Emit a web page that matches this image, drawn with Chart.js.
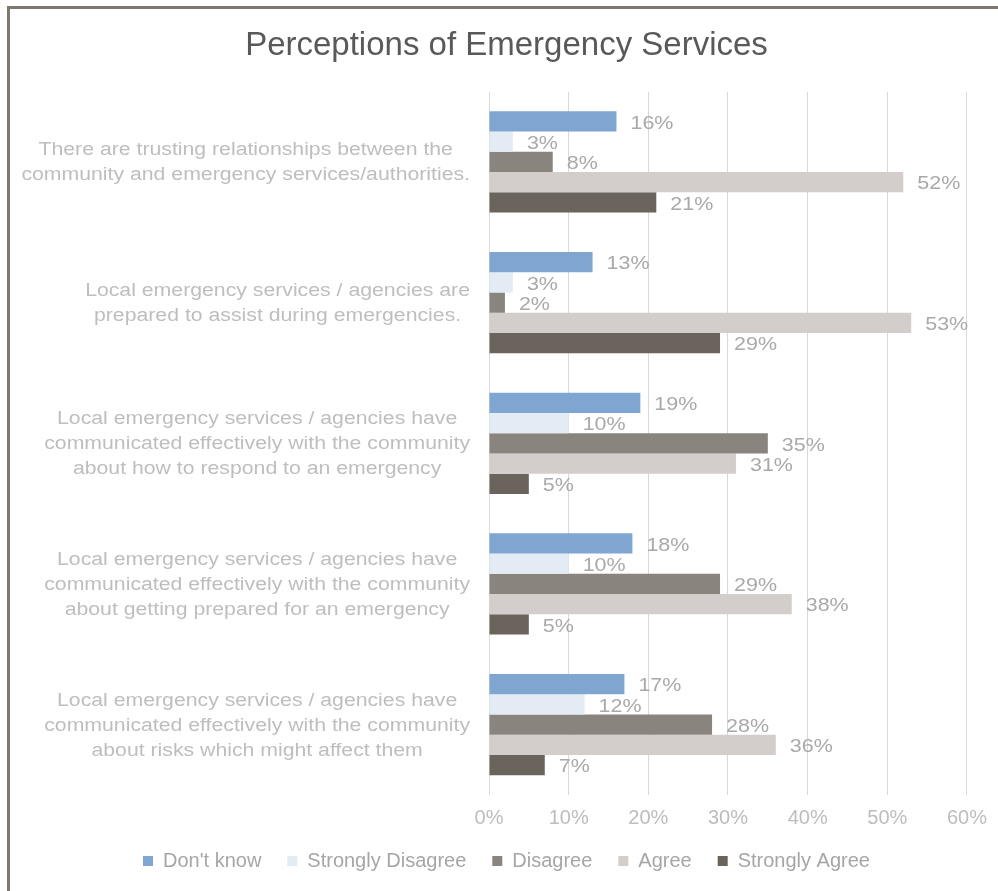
<!DOCTYPE html>
<html>
<head>
<meta charset="utf-8">
<script src="https://cdn.jsdelivr.net/npm/chart.js@4.4.1/dist/chart.umd.min.js"></script>
<style>
  html, body { margin: 0; padding: 0; background: #ffffff; overflow: hidden; }
  #wrap { position: relative; width: 998px; height: 891px; }
  #frame {
    position: absolute; left: 7px; top: 6px; width: 1100px; height: 1000px;
    border-top: 3px solid #7d7872; border-left: 3px solid #7d7872;
    box-sizing: border-box; pointer-events: none;
  }
  canvas { position: absolute; left: 0; top: 0; }
</style>
</head>
<body>
<div id="wrap">
  <canvas id="chart" width="998" height="891"></canvas>
  <div id="frame"></div>
</div>
<script>
// Categorías (una por fila del gráfico, cada una partida en líneas)
const categories = [
  ["There are trusting relationships between the", "community and emergency services/authorities."],
  ["Local emergency services / agencies are", "prepared to assist during emergencies."],
  ["Local emergency services / agencies have", "communicated effectively with the community", "about how to respond to an emergency"],
  ["Local emergency services / agencies have", "communicated effectively with the community", "about getting prepared for an emergency"],
  ["Local emergency services / agencies have", "communicated effectively with the community", "about risks which might affect them"]
];

// Porcentajes por serie
const dontKnow = [16, 13, 19, 18, 17];
const stronglyDisagree = [3, 3, 10, 10, 12];
const disagree = [8, 2, 35, 29, 28];
const agree = [52, 53, 31, 38, 36];
const stronglyAgree = [21, 29, 5, 5, 7];

const xTicks = [0, 10, 20, 30, 40, 50, 60];

const FONT = "'Liberation Sans', Arial, sans-serif";

// Texto algo ensanchado, como en la plantilla original
function wideText(ctx, text, x, y, sx) {
  ctx.save();
  ctx.translate(x, y);
  ctx.scale(sx, 1);
  ctx.fillText(text, 0, 0);
  ctx.restore();
}

// Etiquetas de valor al final de cada barra
const valueLabels = {
  id: 'valueLabels',
  afterDatasetsDraw(chart) {
    const ctx = chart.ctx;
    ctx.save();
    ctx.font = '19px ' + FONT;
    ctx.fillStyle = '#a9a9a9';
    ctx.textAlign = 'left';
    ctx.textBaseline = 'middle';
    chart.data.datasets.forEach((ds, i) => {
      const meta = chart.getDatasetMeta(i);
      meta.data.forEach((bar, j) => {
        wideText(ctx, ds.data[j] + '%', bar.x + 14, bar.y + 2, 1.13);
      });
    });
    ctx.restore();
  }
};

// Etiquetas de categoría: bloque alineado a la derecha, líneas centradas
const categoryLabels = {
  id: 'categoryLabels',
  afterDraw(chart) {
    const ctx = chart.ctx;
    const yScale = chart.scales.y;
    const right = chart.chartArea.left - 19;
    const lineH = 25;
    const sx = 1.18;
    ctx.save();
    ctx.font = '18px ' + FONT;
    ctx.fillStyle = '#bebebe';
    ctx.textAlign = 'center';
    ctx.textBaseline = 'middle';
    categories.forEach((lines, i) => {
      const widest = Math.max(...lines.map(l => ctx.measureText(l).width)) * sx;
      const cx = right - widest / 2;
      const cy = yScale.getPixelForValue(i) + 1;
      const top = cy - (lines.length - 1) * lineH / 2;
      lines.forEach((l, k) => wideText(ctx, l, cx, top + k * lineH, sx));
    });
    ctx.restore();
  }
};

// La leyenda usa el mismo padding en horizontal y vertical;
// se recorta el hueco vertical y se sube un poco su caja.
const LEGEND_PAD = 26;
const LEGEND_TRIM = 15;
const legendTrim = {
  id: 'legendTrim',
  beforeInit(chart) {
    const legend = chart.legend;
    if (!legend) return;
    const fit = legend.fit;
    legend.fit = function () {
      fit.call(this);
      this.height -= LEGEND_TRIM;
    };
  },
  afterLayout(chart) {
    const legend = chart.legend;
    if (!legend) return;
    legend.top -= 16;
  }
};

const ctx = document.getElementById('chart').getContext('2d');
new Chart(ctx, {
  type: 'bar',
  data: {
    labels: categories.map((c, i) => i),
    datasets: [
      { label: "Don't know", data: dontKnow, backgroundColor: '#7fa6d0' },
      { label: 'Strongly Disagree', data: stronglyDisagree, backgroundColor: '#e3ebf4' },
      { label: 'Disagree', data: disagree, backgroundColor: '#8a847e' },
      { label: 'Agree', data: agree, backgroundColor: '#d3cecb' },
      { label: 'Strongly Agree', data: stronglyAgree, backgroundColor: '#6b645d' }
    ]
  },
  options: {
    indexAxis: 'y',
    responsive: false,
    animation: false,
    devicePixelRatio: 1,
    layout: { padding: { left: 40, right: 25, top: 26, bottom: 9 } },
    datasets: {
      bar: { categoryPercentage: 0.72, barPercentage: 1.0 }
    },
    scales: {
      x: {
        min: 0,
        max: 60,
        afterBuildTicks(scale) {
          scale.ticks = xTicks.map(v => ({ value: v }));
        },
        ticks: {
          callback: v => v + '%',
          color: '#bdbdbd',
          font: { family: FONT, size: 20 },
          padding: 11
        },
        grid: { color: '#d9d9d9', lineWidth: 1, drawTicks: false },
        border: { display: false }
      },
      y: {
        afterFit(scale) { scale.width = 449; },
        ticks: { display: false },
        grid: { display: false, drawTicks: false },
        border: { display: false }
      }
    },
    plugins: {
      title: {
        display: true,
        text: 'Perceptions of Emergency Services',
        color: '#595959',
        font: { family: FONT, size: 33, weight: 'normal' },
        padding: { top: 0, bottom: 26 }
      },
      legend: {
        position: 'bottom',
        labels: {
          color: '#a6a6a6',
          font: { family: FONT, size: 20 },
          boxWidth: 10,
          boxHeight: 10,
          padding: LEGEND_PAD
        }
      },
      tooltip: { enabled: false }
    }
  },
  plugins: [valueLabels, categoryLabels, legendTrim]
});
</script>
</body>
</html>
